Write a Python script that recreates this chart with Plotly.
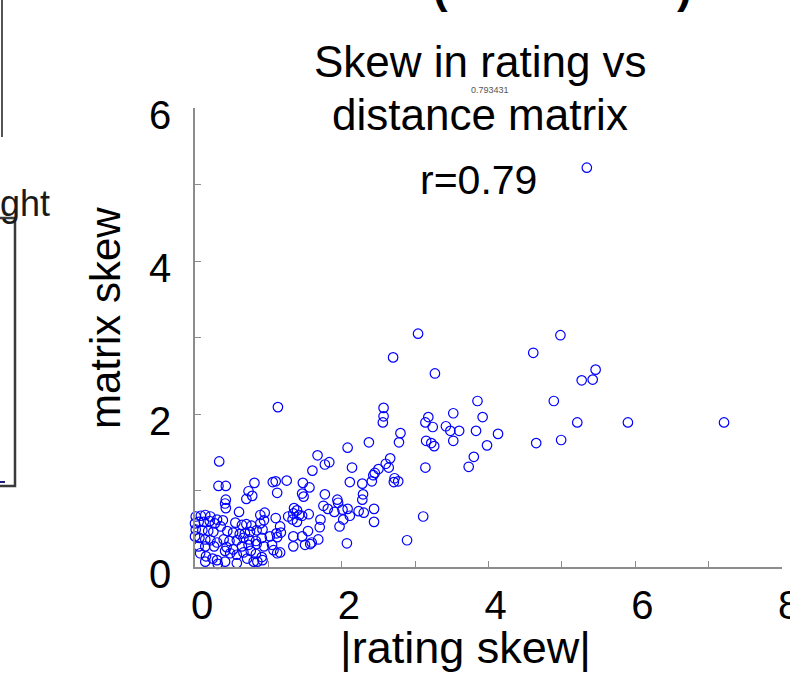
import plotly.graph_objects as go

# |rating skew| (x) and matrix skew (y)
rating_skew = [
    5.34, 3.04, 4.98, 4.61, 2.70, 3.27, 5.46, 5.27, 5.42, 3.85, 4.89, 3.92, 5.21, 5.90, 7.21,
    3.83, 4.13, 3.98, 4.65, 4.99, 3.80, 3.73, 1.13, 2.57, 2.57, 2.56, 3.52, 3.18, 3.14, 3.24,
    3.42, 3.48, 3.60, 2.37, 2.80, 2.78, 3.15, 3.22, 3.26, 3.52, 2.66, 2.64, 2.60, 2.50, 2.45,
    2.43, 2.41, 2.28, 2.72, 2.71, 2.77, 3.14, 2.29, 2.28, 2.44, 2.30, 2.44, 3.11, 2.89, 2.08,
    1.67, 1.77, 1.83, 2.14, 1.60, 0.33, 1.06, 1.10, 1.25, 1.47, 1.56, 2.11,
    0.81, 0.32, 0.42, 1.12, 0.73, 0.78, 0.70, 1.46, 1.48, 1.77, 1.94, 1.95, 1.75, 1.81, 1.90,
    2.01, 2.08, 2.02, 2.11, 2.23, 1.35, 1.39, 1.34, 1.42, 1.33, 1.39, 1.46, 1.27, 1.55, 1.71,
    1.70, 1.10, 1.16, 1.17, 1.12, 1.05, 1.07, 1.12, 1.16, 1.34, 1.34, 1.46, 1.54, 1.68, 1.50,
    1.57, 1.59, 1.97, 2.07, 0.42, 0.41, 0.42, 0.60, 0.89, 0.95,
    0.01, 0.08, 0.14, 0.21, 0.30, 0.38, 0.00, 0.05, 0.12, 0.20, 0.27, 0.35,
    0.55, 0.64, 0.70, 0.77, 0.89, 0.94, 0.01, 0.10, 0.18, 0.25,
    0.44, 0.52, 0.61, 0.68, 0.75, 0.84, 0.92, 0.00, 0.06, 0.14, 0.21, 0.30,
    0.39, 0.47, 0.57, 0.66, 0.74, 0.83, 0.91, 1.02, 1.11, 0.05, 0.14, 0.26,
    0.43, 0.52, 0.64, 0.73, 0.84, 0.94, 0.07, 0.15, 0.24,
    0.41, 0.48, 0.57, 0.66, 0.76, 0.83, 0.91, 0.30, 0.41, 0.57, 0.80, 0.92,
    0.14, 0.31, 0.71, 0.85,
]
matrix_skew = [
    5.22, 3.05, 3.03, 2.80, 2.74, 2.53, 2.58, 2.44, 2.45, 2.17, 2.17, 1.96, 1.89, 1.89, 1.89,
    1.78, 1.74, 1.59, 1.62, 1.66, 1.44, 1.31, 2.09, 2.08, 1.97, 1.89, 2.01, 1.96, 1.89, 1.83,
    1.84, 1.78, 1.78, 1.63, 1.75, 1.63, 1.65, 1.62, 1.58, 1.65, 1.42, 1.30, 1.35, 1.28, 1.23,
    1.20, 1.12, 1.09, 1.16, 1.11, 1.12, 1.30, 0.95, 0.88, 0.76, 0.71, 0.59, 0.66, 0.35, 1.56,
    1.46, 1.34, 1.37, 1.30, 1.26, 1.38, 1.11, 1.12, 1.13, 1.10, 1.04, 1.11,
    1.10, 1.06, 1.06, 0.97, 0.99, 0.93, 0.89, 0.96, 0.92, 0.95, 0.88, 0.84, 0.80, 0.76, 0.72,
    0.75, 0.76, 0.62, 0.67, 0.73, 0.77, 0.74, 0.70, 0.68, 0.62, 0.59, 0.67, 0.66, 0.69, 0.62,
    0.52, 0.64, 0.53, 0.45, 0.39, 0.29, 0.22, 0.18, 0.19, 0.40, 0.27, 0.40, 0.47, 0.36, 0.29,
    0.30, 0.32, 0.53, 0.31, 0.88, 0.83, 0.77, 0.72, 0.68, 0.71,
    0.66, 0.67, 0.68, 0.66, 0.62, 0.61, 0.57, 0.59, 0.59, 0.60, 0.57, 0.53,
    0.58, 0.55, 0.56, 0.54, 0.57, 0.61, 0.49, 0.48, 0.47, 0.46,
    0.47, 0.45, 0.43, 0.44, 0.46, 0.48, 0.49, 0.40, 0.38, 0.36, 0.35, 0.32,
    0.36, 0.34, 0.35, 0.38, 0.36, 0.34, 0.38, 0.40, 0.44, 0.27, 0.27, 0.27,
    0.26, 0.23, 0.27, 0.29, 0.30, 0.27, 0.18, 0.14, 0.11,
    0.21, 0.18, 0.16, 0.19, 0.21, 0.17, 0.13, 0.09, 0.07, 0.05, 0.07, 0.09,
    0.07, 0.04, 0.11, 0.07,
]

title_lines = ["Skew in rating vs", "distance matrix"]
r_label = "r=0.79"
r_exact = "0.793431"
x_title = "|rating skew|"
y_title = "matrix skew"
x_ticks = [0, 2, 4, 6, 8]
y_ticks = [0, 2, 4, 6]

FONT = "Liberation Sans, Arial, sans-serif"
W, H = 790, 674
ML, MR, MT, MB = 195, 8, 108, 107
PW, PH = W - ML - MR, H - MT - MB


def px(x):
    return (x - ML) / PW


def py(y):
    return (H - MB - y) / PH


fig = go.Figure(
    go.Scatter(
        x=rating_skew, y=matrix_skew, mode="markers", cliponaxis=False,
        marker=dict(symbol="circle-open", size=9.5, color="#0000ff", line=dict(width=1.2)),
        hoverinfo="skip",
    )
)

axis_common = dict(
    showline=True, linecolor="#8c8c8c", linewidth=1.5, mirror=False,
    ticks="inside", ticklen=6, tickcolor="#8c8c8c", tickwidth=1,
    showgrid=False, zeroline=False, ticklabeloverflow="allow", automargin=False,
    tickfont=dict(family=FONT, size=40, color="black"),
)

fig.update_xaxes(range=[0, 8], tickvals=x_ticks, ticktext=[str(v) for v in x_ticks],
                 minor=dict(dtick=1, tick0=0, ticks="inside", ticklen=6, tickcolor="#8c8c8c"),
                 ticklabelstandoff=2, ticklabelshift=7, **axis_common)
fig.update_yaxes(range=[0, 6], tickvals=y_ticks, ticktext=[str(v) for v in y_ticks],
                 minor=dict(dtick=1, tick0=0, ticks="inside", ticklen=6, tickcolor="#8c8c8c"),
                 ticklabelstandoff=14, ticklabelshift=7, **axis_common)

ann = []
ann.append(dict(text=title_lines[0], x=px(480), y=py(62), font=dict(size=44)))
ann.append(dict(text=title_lines[1], x=px(480), y=py(115), font=dict(size=44)))
ann.append(dict(text=r_exact, x=px(490), y=py(90), font=dict(size=9, color="#555555")))
ann.append(dict(text=r_label, x=px(478), y=py(180), font=dict(size=41)))
ann.append(dict(text=x_title, x=px(465), y=py(647), font=dict(size=45)))
ann.append(dict(text=y_title, x=px(105), y=py(318), font=dict(size=42), textangle=-90))
# fragments of neighbouring panels
ann.append(dict(text="<b>(</b>", x=px(440), y=py(14), yanchor="bottom", font=dict(size=44)))
ann.append(dict(text="<b>)</b>", x=px(684), y=py(14), yanchor="bottom", font=dict(size=44)))
ann.append(dict(text="ght", x=px(52), y=py(203), xanchor="right", font=dict(size=36, color="#1a1a1a")))
for a in ann:
    a.setdefault("xanchor", "center")
    a.setdefault("yanchor", "middle")
    a.update(xref="paper", yref="paper", showarrow=False)
    a["font"] = dict(family=FONT, color=a["font"].get("color", "black"), size=a["font"]["size"])

shapes = [
    dict(type="line", x0=px(2), x1=px(2), y0=py(-5), y1=py(137), line=dict(color="#555555", width=2)),
    dict(type="rect", x0=px(-30), x1=px(15), y0=py(486), y1=py(218), line=dict(color="#3a3a3a", width=2.5)),
    dict(type="line", x0=px(0), x1=px(5), y0=py(482), y1=py(482), line=dict(color="#1a1a80", width=2)),
]
for s in shapes:
    s.update(xref="paper", yref="paper")

fig.update_layout(
    width=W, height=H, margin=dict(l=ML, r=MR, t=MT, b=MB, pad=0, autoexpand=False),
    paper_bgcolor="white", plot_bgcolor="white", showlegend=False,
    annotations=ann, shapes=shapes, font=dict(family=FONT),
)

fig.write_html("out.html")
